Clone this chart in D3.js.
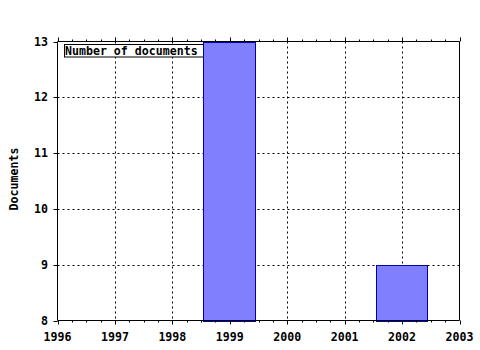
<!DOCTYPE html>
<html>
<head>
<meta charset="utf-8">
<script src="https://cdn.jsdelivr.net/npm/d3@7"></script>
<style>
  body { margin: 0; background: #fff; }
  text { font-family: "DejaVu Sans Mono", monospace; font-weight: bold; font-size: 11.6px; fill: #000; }
</style>
</head>
<body>
<svg id="svg1" width="480" height="350"></svg>
<script>
// data
const years = [1999, 2002];
const docs = [13, 9];
const xTicks = [1996, 1997, 1998, 1999, 2000, 2001, 2002, 2003];
const yTicks = [8, 9, 10, 11, 12, 13];
const seriesName = "Number of documents";

const svg = d3.select("#svg1");
const plotL = 57.5, plotR = 459.5, plotT = 41.5, plotB = 320.5;

const x = d3.scaleLinear().domain([1996, 2003]).range([plotL, plotR]);
const y = d3.scaleLinear().domain([8, 13]).range([plotB, plotT]);

// grid lines (dotted)
svg.append("g")
    .selectAll("line")
    .data(xTicks.slice(1, -1))
    .join("line")
    .attr("x1", d => Math.round(x(d)) + 0.5)
    .attr("x2", d => Math.round(x(d)) + 0.5)
    .attr("y1", plotT)
    .attr("y2", plotB)
    .attr("stroke", "#000")
    .attr("stroke-dasharray", "2,3");

svg.append("g")
    .selectAll("line")
    .data(yTicks.slice(1, -1))
    .join("line")
    .attr("x1", plotL)
    .attr("x2", plotR)
    .attr("y1", d => Math.round(y(d)) + 0.5)
    .attr("y2", d => Math.round(y(d)) + 0.5)
    .attr("stroke", "#000")
    .attr("stroke-dasharray", "2,3");

// legend box (bars drawn over it)
const legend = svg.append("g");
legend.append("rect")
    .attr("x", 64.5).attr("y", 44.5)
    .attr("width", 142).attr("height", 12.5)
    .attr("fill", "#fff")
    .attr("stroke", "#000");
legend.append("text")
    .attr("x", 65).attr("y", 54.5)
    .text(seriesName);

// bars
const barW = 0.9;
svg.append("g")
    .selectAll("rect")
    .data(years.map((yr, i) => ({ yr, v: docs[i] })))
    .join("rect")
    .attr("x", d => Math.floor(x(d.yr - barW / 2)) + 0.5)
    .attr("y", d => Math.round(y(d.v)) + 0.5)
    .attr("width", d => Math.floor(x(d.yr + barW / 2)) - Math.floor(x(d.yr - barW / 2)))
    .attr("height", d => Math.round(y(8)) - Math.round(y(d.v)))
    .attr("fill", "#8080ff")
    .attr("stroke", "#0000a8");

// frame: left, bottom, top, right
const frame = svg.append("g").attr("stroke", "#000").attr("fill", "none");
frame.append("path").attr("d", `M${plotL},${plotT}V${plotB}H${plotR}V${plotT}H${plotL}`);

// x ticks, major + minor at top and bottom
const minor = d3.range(1996, 2003.001, 0.25).filter(d => !xTicks.includes(d));
frame.selectAll(".maj")
    .data(xTicks)
    .join("path")
    .attr("d", d => {
        const px = Math.round(x(d)) + 0.5;
        return `M${px},${plotB}v4M${px},${plotT}v-4`;
    });
frame.selectAll(".min")
    .data(minor)
    .join("path")
    .attr("d", d => {
        const px = Math.round(x(d)) + 0.5;
        return `M${px},${plotB}v2M${px},${plotT}v-2`;
    });

// y ticks
frame.selectAll(".yt")
    .data(yTicks)
    .join("path")
    .attr("d", d => `M${plotL},${Math.round(y(d)) + 0.5}h-4`);

// tick labels
svg.append("g")
    .selectAll("text")
    .data(xTicks)
    .join("text")
    .attr("x", d => x(d))
    .attr("y", 341)
    .attr("text-anchor", "middle")
    .text(d => d);

svg.append("g")
    .selectAll("text")
    .data(yTicks)
    .join("text")
    .attr("x", 48)
    .attr("y", d => y(d) + 4)
    .attr("text-anchor", "end")
    .text(d => d);

// axis title
svg.append("text")
    .attr("transform", `translate(18,${(plotT + plotB) / 2 - 2}) rotate(-90)`)
    .attr("text-anchor", "middle")
    .text("Documents");
</script>
</body>
</html>
